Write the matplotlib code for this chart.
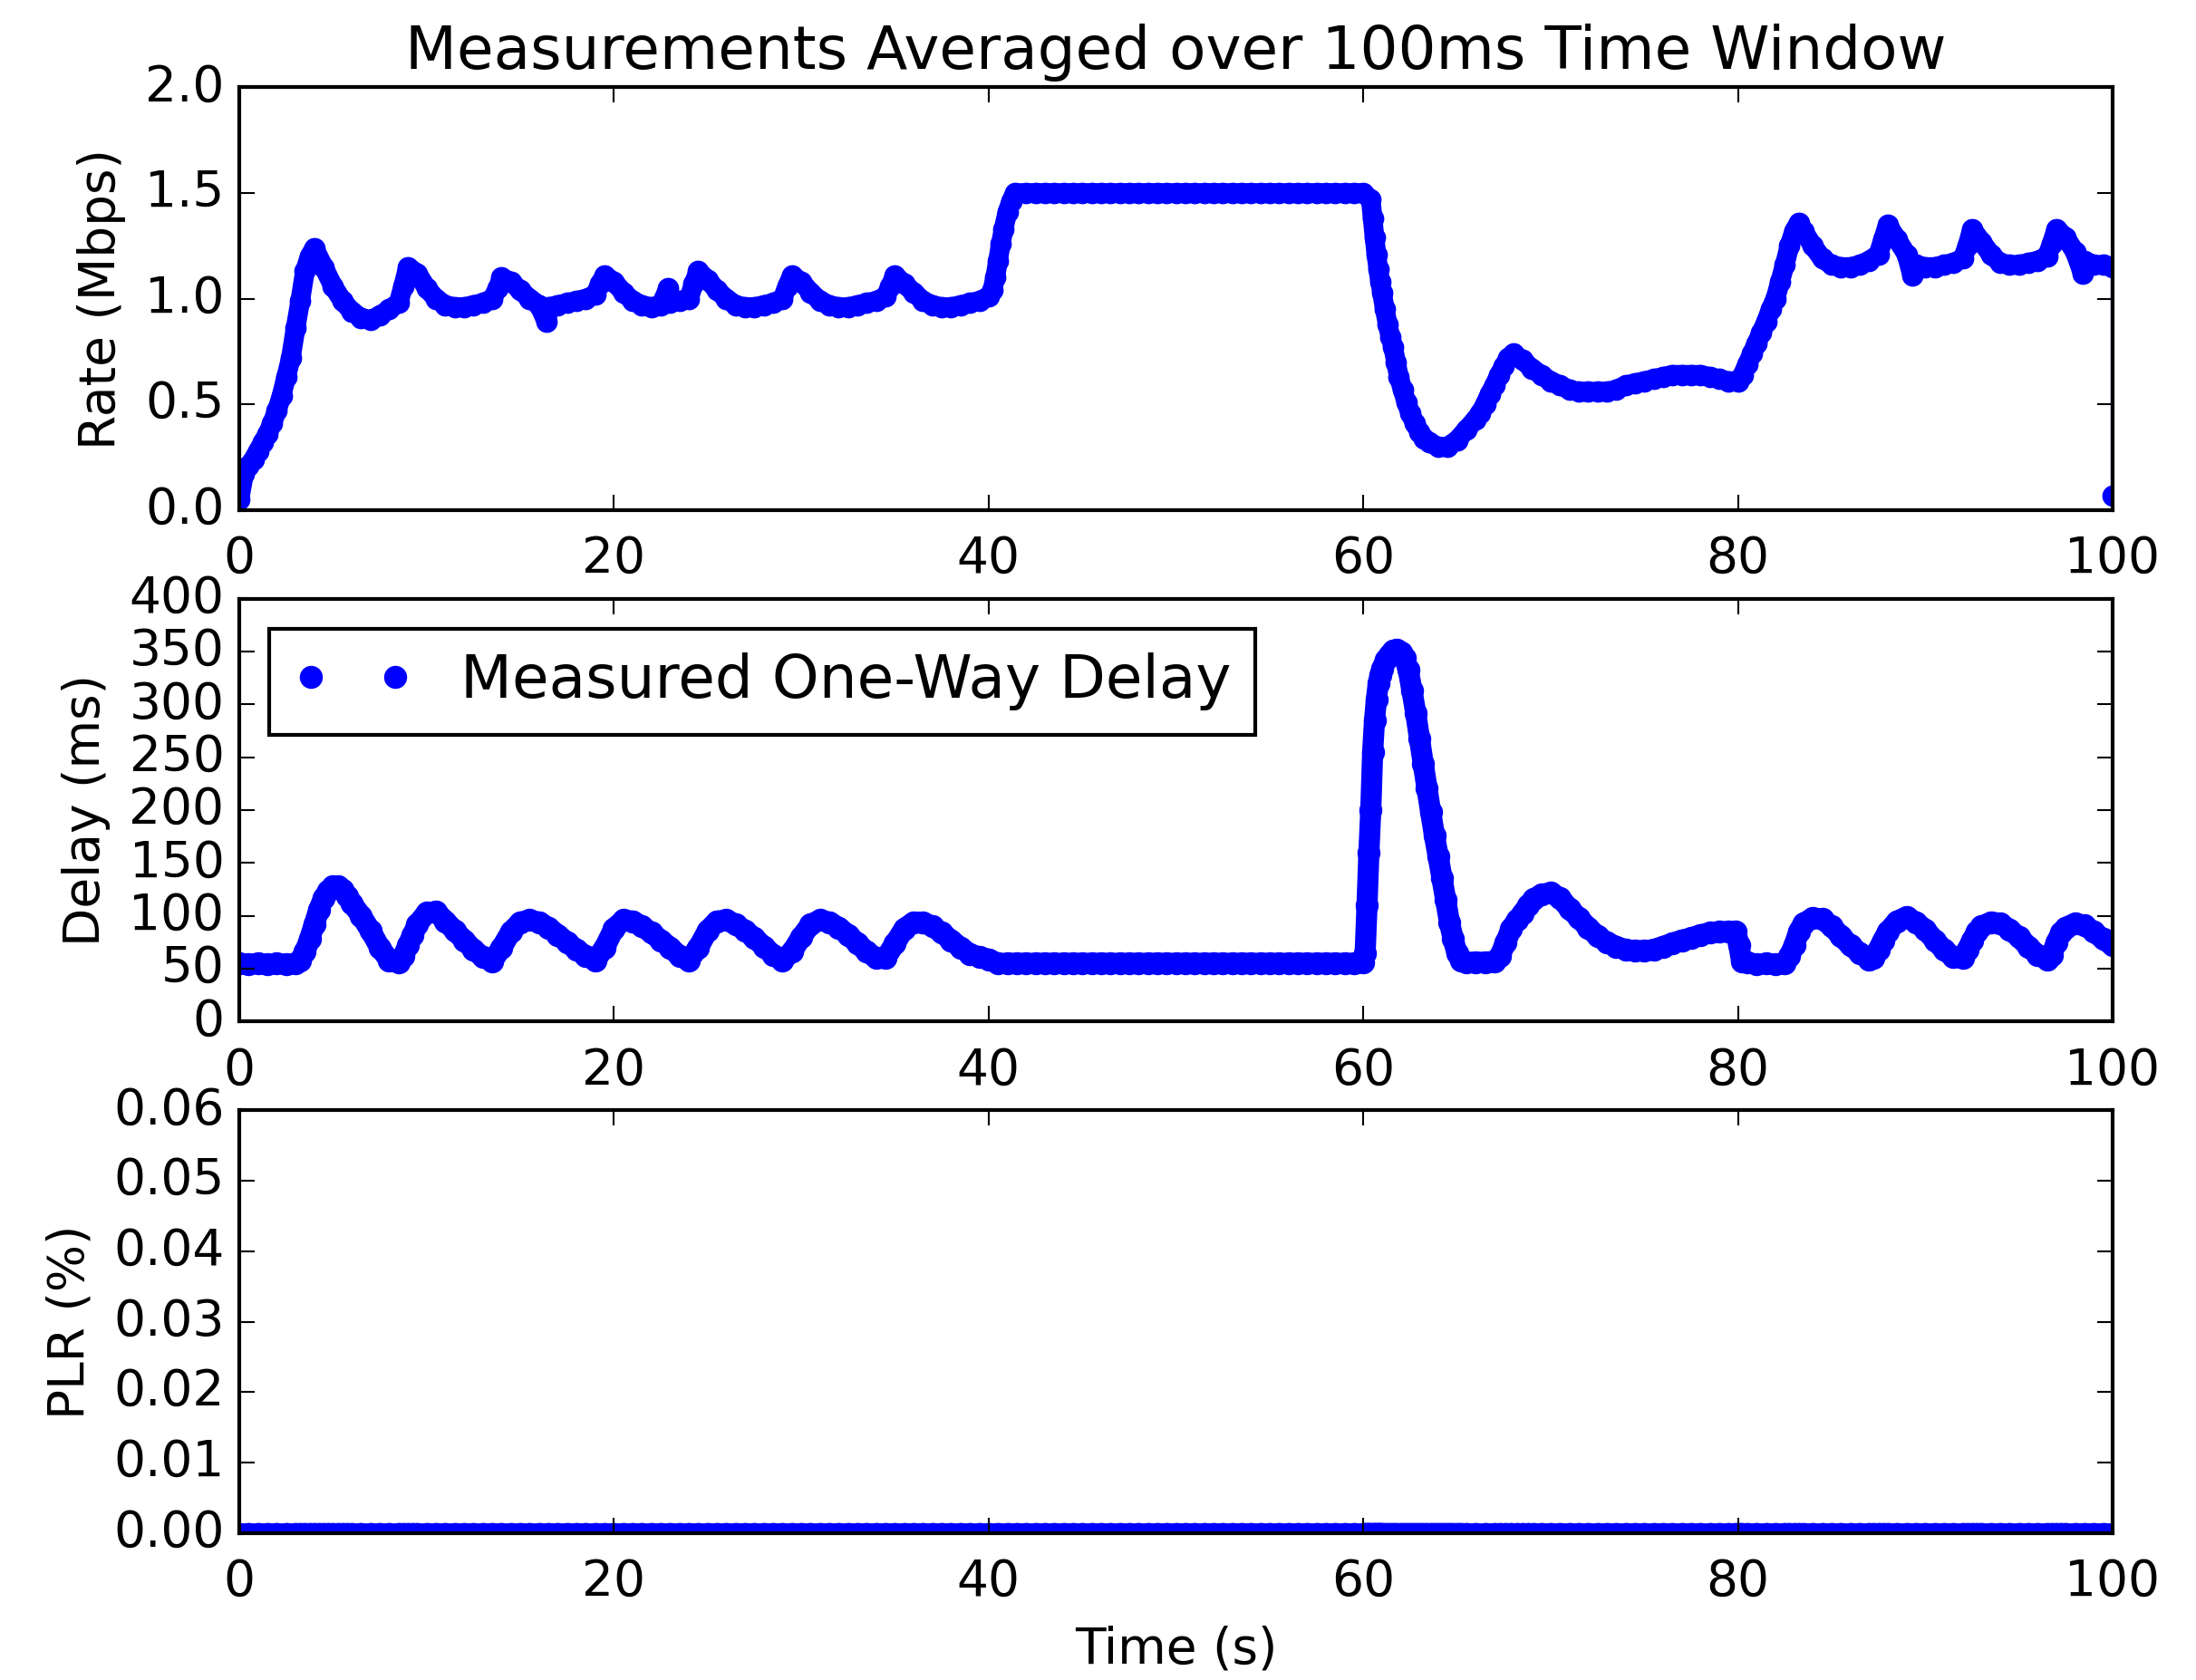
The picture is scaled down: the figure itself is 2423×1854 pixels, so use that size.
import numpy as np
import matplotlib
matplotlib.use('Agg')
import matplotlib.pyplot as plt

# Rate (Mbps) readings, averaged over 100ms windows
rate_t = [0, 0.25, 0.5, 0.75, 1.0, 1.25, 1.5, 1.75, 2.0, 2.25, 2.5, 2.75, 3.0, 3.25, 3.5, 3.75, 4.0,
          4.5, 5.0, 5.5, 6.0, 6.5, 7.0, 7.5, 8.0, 8.5, 8.75, 9.0, 9.5, 10.0, 10.5, 11.0, 11.5, 12.0,
          12.5, 13.0, 13.5, 13.8, 14.0, 14.5, 15.0, 15.5, 16.0, 16.4, 16.5, 17.0, 17.5, 18.0, 18.5,
          19.0, 19.25, 19.5, 20.0, 20.5, 21.0, 21.5, 22.0, 22.5, 22.9, 23.0, 23.5, 24.0, 24.25, 24.5,
          25.0, 25.5, 26.0, 26.5, 27.0, 27.5, 28.0, 28.5, 29.0, 29.25, 29.5, 30.0, 30.5, 31.0, 31.5,
          32.0, 32.5, 33.0, 33.5, 34.0, 34.5, 34.75, 35.0, 35.5, 36.0, 36.5, 37.0, 37.5, 38.0, 38.5,
          39.0, 39.5, 40.0, 40.2, 40.35, 40.5, 40.65, 40.8, 41.0, 41.2, 41.4,
          42, 42.5, 43, 43.5, 44, 44.5, 45, 45.5, 46, 46.5, 47, 47.5, 48, 48.5, 49, 49.5, 50, 50.5,
          51, 51.5, 52, 52.5, 53, 53.5, 54, 54.5, 55, 55.5, 56, 56.5, 57, 57.5, 58, 58.5, 59, 59.5, 60,
          60.4, 60.5, 60.6, 60.7, 60.8, 60.9, 61.0, 61.15, 61.3, 61.45, 61.6, 61.75, 61.9, 62.1, 62.3,
          62.5, 62.75, 63.0, 63.25, 63.5, 64.0, 64.5, 65.0, 65.5, 66.0, 66.25, 66.5, 66.75, 67.0,
          67.25, 67.5, 67.75, 68.0, 68.5, 69.0, 69.5, 70.0, 70.5, 71.0, 71.5, 72.0, 72.5, 73.0, 73.5,
          74.0, 74.5, 75.0, 75.5, 76.0, 76.5, 77.0, 77.5, 78.0, 78.5, 79.0, 79.5, 80.0, 80.25, 80.5,
          80.75, 81.0, 81.25, 81.5, 81.75, 82.0, 82.25, 82.5, 82.75, 83.0, 83.25, 83.5, 84.0, 84.5,
          85.0, 85.5, 86.0, 86.5, 87.0, 87.5, 87.75, 88.0, 88.5, 89.0, 89.3, 89.5, 90.0, 90.5, 91.0,
          91.5, 92.0, 92.25, 92.5, 93.0, 93.5, 94.0, 94.5, 95.0, 95.5, 96.0, 96.5, 96.75, 97.0, 97.5,
          98.0, 98.4, 98.5, 99.0, 99.5, 100.0, 100.0]
rate_mbps = [0.05, 0.17, 0.21, 0.24, 0.28, 0.32, 0.36, 0.41, 0.47, 0.54, 0.63, 0.72, 0.86, 0.99, 1.13, 1.20, 1.24,
             1.15, 1.06, 0.99, 0.94, 0.91, 0.90, 0.92, 0.95, 0.98, 1.06, 1.15, 1.12, 1.05, 1.00, 0.97, 0.96, 0.96,
             0.97, 0.98, 1.00, 1.05, 1.10, 1.08, 1.04, 1.00, 0.97, 0.89, 0.96, 0.97, 0.98, 0.99, 1.00,
             1.02, 1.07, 1.11, 1.08, 1.03, 0.99, 0.97, 0.96, 0.97, 1.05, 0.98, 0.99, 1.00, 1.07, 1.13,
             1.09, 1.04, 1.00, 0.97, 0.96, 0.96, 0.97, 0.98, 1.00, 1.06, 1.11, 1.08, 1.03, 0.99, 0.97,
             0.96, 0.96, 0.97, 0.98, 0.99, 1.01, 1.06, 1.11, 1.07, 1.03, 0.99, 0.97, 0.96, 0.96, 0.97,
             0.98, 0.99, 1.01, 1.04, 1.10, 1.18, 1.26, 1.33, 1.41, 1.46, 1.50,
             1.5, 1.5, 1.5, 1.5, 1.5, 1.5, 1.5, 1.5, 1.5, 1.5, 1.5, 1.5, 1.5, 1.5, 1.5, 1.5, 1.5, 1.5,
             1.5, 1.5, 1.5, 1.5, 1.5, 1.5, 1.5, 1.5, 1.5, 1.5, 1.5, 1.5, 1.5, 1.5, 1.5, 1.5, 1.5, 1.5, 1.5,
             1.47, 1.38, 1.29, 1.21, 1.14, 1.08, 1.03, 0.95, 0.88, 0.82, 0.77, 0.70, 0.63, 0.57, 0.51,
             0.46, 0.41, 0.37, 0.34, 0.32, 0.30, 0.30, 0.33, 0.38, 0.43, 0.46, 0.50, 0.55, 0.59,
             0.64, 0.68, 0.72, 0.74, 0.71, 0.67, 0.64, 0.61, 0.59, 0.57, 0.56, 0.56, 0.56, 0.56, 0.57,
             0.59, 0.60, 0.61, 0.62, 0.63, 0.64, 0.64, 0.64, 0.64, 0.63, 0.62, 0.61, 0.61, 0.64, 0.69,
             0.74, 0.79, 0.84, 0.89, 0.95, 1.00, 1.08, 1.16, 1.25, 1.32, 1.36, 1.32, 1.25, 1.19,
             1.16, 1.15, 1.15, 1.16, 1.18, 1.21, 1.28, 1.35, 1.28, 1.21, 1.11, 1.16, 1.15, 1.15, 1.16,
             1.17, 1.19, 1.25, 1.33, 1.27, 1.21, 1.17, 1.16, 1.16, 1.17, 1.18, 1.20, 1.26, 1.33, 1.29,
             1.22, 1.12, 1.18, 1.16, 1.16, 1.15, 0.07]

# One-way delay (ms) readings
delay_t = [0, 0.5, 1.0, 1.5, 2.0, 2.5, 3.0,
           3.25, 3.5, 3.75, 4.0, 4.25, 4.5, 4.75, 5.0, 5.25, 5.5, 5.75, 6.0,
           6.5, 7.0, 7.5, 8.0, 8.5, 8.75, 9.0, 9.25, 9.5, 10.0, 10.5, 11.0, 11.5, 12.0, 12.5, 13.0,
           13.5, 14.0, 14.5, 15.0, 15.5, 16.0, 16.5, 17.0, 17.5, 18.0, 18.5, 19.0, 19.5, 20.0, 20.5,
           21.0, 21.5, 22.0, 22.5, 23.0, 23.5, 24.0, 24.5, 25.0, 25.5, 26.0, 26.5, 27.0, 27.5, 28.0,
           28.5, 29.0, 29.5, 30.0, 30.5, 31.0, 31.5, 32.0, 32.5, 33.0, 33.5, 34.0, 34.5, 35.0, 35.5,
           36.0, 36.5, 37.0, 37.5, 38.0, 38.5, 39.0, 39.5, 40.0, 40.5,
           41, 41.5, 42, 42.5, 43, 43.5, 44, 44.5, 45, 45.5, 46, 46.5, 47, 47.5, 48, 48.5, 49, 49.5,
           50, 50.5, 51, 51.5, 52, 52.5, 53, 53.5, 54, 54.5, 55, 55.5, 56, 56.5, 57, 57.5, 58, 58.5,
           59, 59.5, 60.0,
           60.1, 60.2, 60.3, 60.4, 60.5, 60.6, 60.7, 60.8, 60.9, 61.0, 61.2, 61.4, 61.6, 61.8, 62.0,
           62.2, 62.4, 62.6, 62.8, 63.0, 63.2, 63.4, 63.6, 63.8, 64.0, 64.2, 64.4, 64.6, 64.8, 65.0,
           65.2, 65.5, 66.0, 66.5, 67.0, 67.3, 67.6, 67.9, 68.2, 68.5, 68.8, 69.1, 69.5, 70.0, 70.5,
           71.0, 71.5, 72.0, 72.5, 73.0, 73.5, 74.0, 74.5, 75.0, 75.5, 76.0, 76.5, 77.0, 77.5, 78.0,
           78.5, 79.0, 79.5, 79.9, 80.05, 80.2, 80.5, 81.0, 81.5, 82.0, 82.5, 82.75, 83.0, 83.25,
           83.5, 84.0, 84.5, 85.0, 85.5, 86.0, 86.5, 87.0, 87.25, 87.5, 87.75, 88.0, 88.5, 89.0, 89.5,
           90.0, 90.5, 91.0, 91.5, 92.0, 92.25, 92.5, 92.75, 93.0, 93.5, 94.0, 94.5, 95.0, 95.5, 96.0,
           96.5, 96.75, 97.0, 97.25, 97.5, 98.0, 98.5, 99.0, 99.5, 100.0]
delay_ms = [55, 54, 55, 54, 55, 54, 55,
            58, 66, 78, 92, 106, 117, 124, 128, 128, 125, 119, 112,
            100, 86, 70, 58, 56, 62, 72, 82, 92, 103, 104, 95, 86, 77, 68, 61,
            57, 70, 85, 94, 96, 94, 89, 82, 75, 68, 62, 58, 70, 88, 96,
            95, 90, 84, 77, 70, 62, 58, 70, 86, 95, 96, 92, 86, 79, 71,
            63, 58, 66, 80, 92, 96, 94, 89, 82, 74, 66, 60, 60, 74, 88,
            94, 94, 90, 84, 77, 70, 64, 61, 59, 55,
            55, 55, 55, 55, 55, 55, 55, 55, 55, 55, 55, 55, 55, 55, 55, 55, 55, 55,
            55, 55, 55, 55, 55, 55, 55, 55, 55, 55, 55, 55, 55, 55, 55, 55, 55, 55,
            55, 55, 56,
            65, 110, 160, 200, 255, 285, 305, 320, 328, 334, 342, 347, 351, 352, 349,
            344, 333, 313, 292, 268, 244, 221, 198, 176, 156, 136, 115, 94, 78, 65,
            58, 56, 56, 56, 57, 62, 75, 88, 96, 102, 110, 116, 120, 122, 117,
            107, 98, 89, 81, 75, 71, 68, 67, 67, 68, 71, 74, 77, 79, 82,
            84, 85, 85, 85, 72, 57, 56, 54, 55, 54, 55, 62, 72, 85,
            93, 98, 97, 90, 81, 72, 65, 59, 60, 68, 77, 85, 95, 99, 94,
            87, 77, 68, 61, 60, 68, 77, 85, 90, 94, 93, 87, 80, 71, 63,
            59, 63, 75, 84, 89, 93, 91, 85, 78, 72]

# Packet loss ratio (%) - zero over the whole run
plr_t = delay_t
plr_pct = [0.0] * len(delay_t)

plt.style.use('classic')
plt.rcParams['figure.facecolor'] = 'white'
plt.rcParams['savefig.facecolor'] = 'white'
plt.rcParams['font.size'] = 13.2
plt.rcParams['xtick.major.pad'] = 6.5

fig, (ax1, ax2, ax3) = plt.subplots(3, 1, figsize=(2423 / 300, 1854 / 300), dpi=300)
fig.subplots_adjust(left=0.109, right=0.962, top=0.948, bottom=0.0875, hspace=0.21)

MS = 5.2  # dot diameter (pt); the 100ms samples overlap into a solid band

# Rate
ax1.plot(rate_t[:-1], rate_mbps[:-1], '-', color='b', lw=MS, solid_capstyle='round', solid_joinstyle='round')
ax1.plot(rate_t, rate_mbps, 'b-', lw=1)
ax1.plot(rate_t, rate_mbps, 'bo', ms=MS, mec='b')
ax1.set_xlim(0, 100)
ax1.set_ylim(0, 2.0)
ax1.set_yticks([0.0, 0.5, 1.0, 1.5, 2.0])
ax1.set_ylabel('Rate (Mbps)')
ax1.set_title('Measurements Averaged over 100ms Time Window')

# Delay
ax2.plot(delay_t, delay_ms, '-', color='b', lw=MS + 0.4, solid_capstyle='round', solid_joinstyle='round')
ax2.plot(delay_t, delay_ms, 'bo', ms=MS + 0.4, mec='b', label='Measured One-Way Delay')
ax2.set_xlim(0, 100)
ax2.set_ylim(0, 400)
ax2.set_yticks(np.arange(0, 401, 50))
ax2.set_ylabel('Delay (ms)')
ax2.legend(loc='upper left', numpoints=2)

# PLR
ax3.plot(plr_t, plr_pct, '-', color='b', lw=MS)
ax3.plot(plr_t, plr_pct, 'bo', ms=MS, mec='b')
ax3.set_xlim(0, 100)
ax3.set_ylim(0, 0.06)
ax3.set_yticks(np.arange(0, 0.061, 0.01))
ax3.set_ylabel('PLR (%)')
ax3.set_xlabel('Time (s)')

plt.savefig('out.png', dpi=300)
